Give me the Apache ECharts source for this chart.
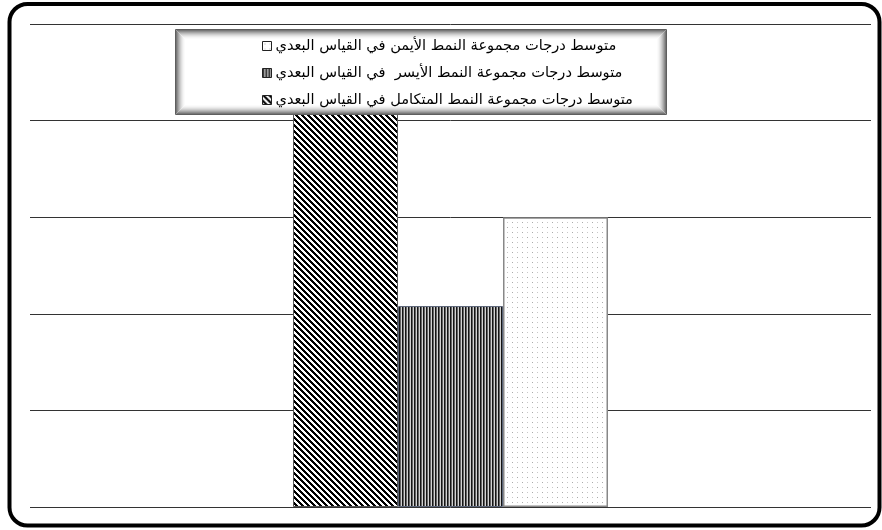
<!DOCTYPE html>
<html>
<head>
<meta charset="utf-8">
<script src="https://cdn.jsdelivr.net/npm/echarts@6/dist/echarts.min.js"></script>
<style>
html,body{margin:0;padding:0;background:#fff;}
#chart{width:882px;height:530px;}
</style>
</head>
<body>
<div id="chart"></div>
<script>
// ---- data ----
var categories = ['القياس البعدي'];
var seriesNames = [
  'متوسط درجات مجموعة النمط المتكامل في القياس البعدي',
  'متوسط درجات مجموعة النمط الأيسر  في القياس البعدي',
  'متوسط درجات مجموعة النمط الأيمن في القياس البعدي'
];
var integratedValues = [4.5];
var leftValues = [2.08];
var rightValues = [3.0];
var legendOrder = [seriesNames[2], seriesNames[1], seriesNames[0]];

// ---- patterns ----
function makeCanvas(w, h, fn) {
  var c = document.createElement('canvas');
  c.width = w; c.height = h;
  var ctx = c.getContext('2d');
  var img = ctx.createImageData(w, h);
  for (var y = 0; y < h; y++) for (var x = 0; x < w; x++) {
    var v = fn(x, y);
    var i = (y * w + x) * 4;
    img.data[i] = v; img.data[i+1] = v; img.data[i+2] = v; img.data[i+3] = 255;
  }
  ctx.putImageData(img, 0, 0);
  return c;
}
var hatch = makeCanvas(6, 6, function (x, y) {
  var d = ((x - y) % 6 + 6) % 6;
  return d < 3 ? 0 : 255;
});
var vstripe = makeCanvas(3, 3, function (x) {
  return [20, 100, 210][x];
});
var dots = makeCanvas(10, 10, function (x, y) {
  if ((x === 2 && y === 2) || (x === 7 && y === 7)) return 170;
  if ((x === 7 && y === 2) || (x === 2 && y === 7)) return 200;
  return 255;
});

var chart = echarts.init(document.getElementById('chart'));

// legend box with inner shadow
var box = {x: 175, y: 29, w: 492, h: 86};
var boxEls = [{
  type: 'rect', z: 3,
  shape: {x: box.x, y: box.y, width: box.w, height: box.h},
  style: {fill: '#ffffff', stroke: null}
}];
var shades = ['#5e5e5e','#777777','#8f8f8f','#a6a6a6','#bbbbbb','#cecece','#dedede','#ebebeb','#f5f5f5','#fbfbfb'];
for (var i = 0; i < shades.length; i++) {
  boxEls.push({
    type: 'rect', z: 3,
    shape: {x: box.x + i + 0.5, y: box.y + i + 0.5, width: box.w - 2*i - 1, height: box.h - 2*i - 1},
    style: {fill: null, stroke: shades[i], lineWidth: 1}
  });
}
boxEls.push({
  type: 'rect', z: 10, silent: true,
  shape: {x: 9.5, y: 4, width: 870, height: 521.5, r: 18},
  style: {fill: null, stroke: '#000', lineWidth: 4}
});

chart.setOption({
  animation: false,
  backgroundColor: '#fff',
  grid: {left: 30, right: 11, top: 24, bottom: 23},
  legend: {
    data: legendOrder,
    orient: 'vertical',
    left: 257, top: 33,
    icon: 'rect',
    itemWidth: 9, itemHeight: 9,
    itemGap: 11,
    z: 5,
    textStyle: {fontSize: 14.6, lineHeight: 16, color: '#000', fontFamily: 'DejaVu Sans', padding: [0, 0, 0, -1]},
    itemStyle: {borderColor: '#222', borderWidth: 1}
  },
  xAxis: {
    type: 'category', data: categories,
    axisLine: {show: false}, axisTick: {show: false}, axisLabel: {show: false}
  },
  yAxis: {
    type: 'value', min: 0, max: 5, interval: 1,
    axisLine: {show: false}, axisTick: {show: false}, axisLabel: {show: false},
    splitLine: {lineStyle: {color: '#333', width: 1}}
  },
  series: [
    {name: seriesNames[0], type: 'bar', data: integratedValues, barWidth: 105, barGap: '0%',
     itemStyle: {color: {image: hatch, repeat: 'repeat'}, borderColor: '#555', borderWidth: 1}},
    {name: seriesNames[1], type: 'bar', data: leftValues, barWidth: 105, barGap: '0%',
     itemStyle: {color: {image: vstripe, repeat: 'repeat'}, borderColor: '#5a6478', borderWidth: 1}},
    {name: seriesNames[2], type: 'bar', data: rightValues, barWidth: 105, barGap: '0%',
     itemStyle: {color: {image: dots, repeat: 'repeat'}, borderColor: '#888', borderWidth: 1.5}}
  ],
  graphic: boxEls
});
</script>
</body>
</html>
